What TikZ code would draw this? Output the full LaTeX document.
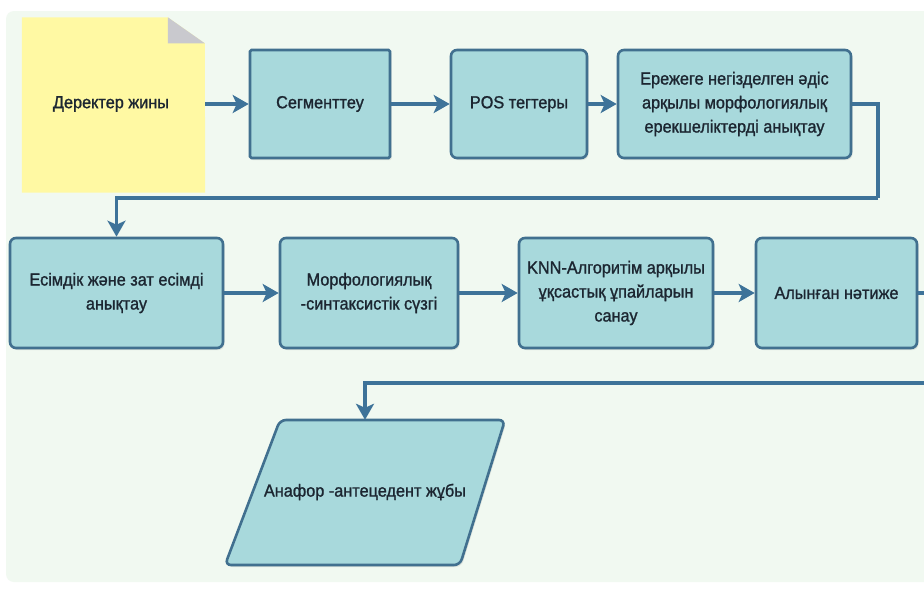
\documentclass[tikz,border=0pt]{standalone}
\usepackage{fontspec}
\setmainfont{Liberation Sans}[FakeStretch=0.93,FakeBold=1.2]
\usetikzlibrary{arrows.meta,shadows,calc}
\definecolor{bgpanel}{HTML}{F1F9F1}
\definecolor{boxfill}{HTML}{A8D9DC}
\definecolor{boxline}{HTML}{41708F}
\definecolor{arrcol}{HTML}{3E7399}
\definecolor{notefill}{HTML}{FFF9A3}
\definecolor{foldcol}{HTML}{C9C9CE}
\definecolor{txt}{HTML}{1C2631}
\begin{document}
\begin{tikzpicture}[x=1pt,y=-1pt,
  procbox/.style={draw=boxline, line width=2.6pt, fill=boxfill, rounded corners=6pt,
    align=center, text=txt, font=\fontsize{17.5}{24}\selectfont, inner sep=2pt,
    drop shadow={opacity=0.18, shadow xshift=1.5pt, shadow yshift=-2pt}},
  plainbox/.style={align=center, text=txt, font=\fontsize{17.5}{24}\selectfont, inner sep=0pt},
  arr/.style={draw=arrcol, line width=3.3pt, -{Stealth[length=16pt,width=18pt,inset=4pt]}},
  ln/.style={draw=arrcol, line width=3.3pt}]
\useasboundingbox (0,0) rectangle (924,592);
\fill[white] (0,0) rectangle (924,592);
\fill[bgpanel, rounded corners=8pt] (6,11) rectangle (940,582);

% note
\node[plainbox, minimum width=183pt, minimum height=175pt] (d) at (113.5,105) {};
\fill[notefill] (d.north west) -- ++(146,0) -- ++(37,26) -- (d.south east) -- (d.south west) -- cycle;
\fill[foldcol] ($(d.north west)+(146,0)$) -- ++(0,26) -- ++(37,0) -- cycle;
\node[plainbox] (dt) at (111,104) {Деректер жины};

% row 1
\node[procbox, rounded corners=1.5pt, minimum width=140pt, minimum height=108pt] (seg) at (320,104) {Сегменттеу};
\node[procbox, minimum width=136pt, minimum height=108pt] (pos) at (519,104) {POS тегтеры};
\node[procbox, minimum width=233pt, minimum height=108pt] (ere) at (734.5,104) {Ережеге негізделген әдіс\\арқылы морфологиялық\\ерекшеліктерді анықтау};

% row 2
\node[procbox, minimum width=213pt, minimum height=110pt] (esim) at (116.5,293) {Есімдік және зат есімді\\анықтау};
\node[procbox, minimum width=178pt, minimum height=110pt] (morph) at (369,293) {Морфологиялық\\-синтаксистік сүзгі};
\node[procbox, minimum width=194pt, minimum height=110pt] (knn) at (616,293) {KNN-Алгоритім арқылы\\ұқсастық ұпайларын\\санау};
\node[procbox, minimum width=161pt, minimum height=110pt] (aly) at (836.5,293) {Алынған нәтиже};

% parallelogram
\node[plainbox, minimum width=280pt, minimum height=145pt] (an) at (365,492.5) {};
\path[draw=boxline, line width=2.6pt, fill=boxfill, rounded corners=6pt,
  drop shadow={opacity=0.18, shadow xshift=1.5pt, shadow yshift=-2pt}]
  (280,420) -- (505,420) -- (460,565) -- (225,565) -- cycle;
\node[plainbox] (ant) at (365,492) {Анафор -антецедент жұбы};

% connectors
\coordinate (c1) at (878,198);
\coordinate (c2) at (930,383);
\draw[arr] (d.east |- dt) -- (seg.west |- dt);
\draw[arr] (seg.east) -- (pos.west);
\draw[arr] (pos.east) -- (ere.west);
\draw[ln] (ere.east) -| (c1);
\draw[arr] (c1) -| (esim.north);
\draw[arr] (esim.east) -- (morph.west);
\draw[arr] (morph.east) -- (knn.west);
\draw[arr] (knn.east) -- (aly.west);
\draw[ln] (aly.east) -| (c2);
\draw[arr] (c2) -| (an.north);
\end{tikzpicture}
\end{document}
